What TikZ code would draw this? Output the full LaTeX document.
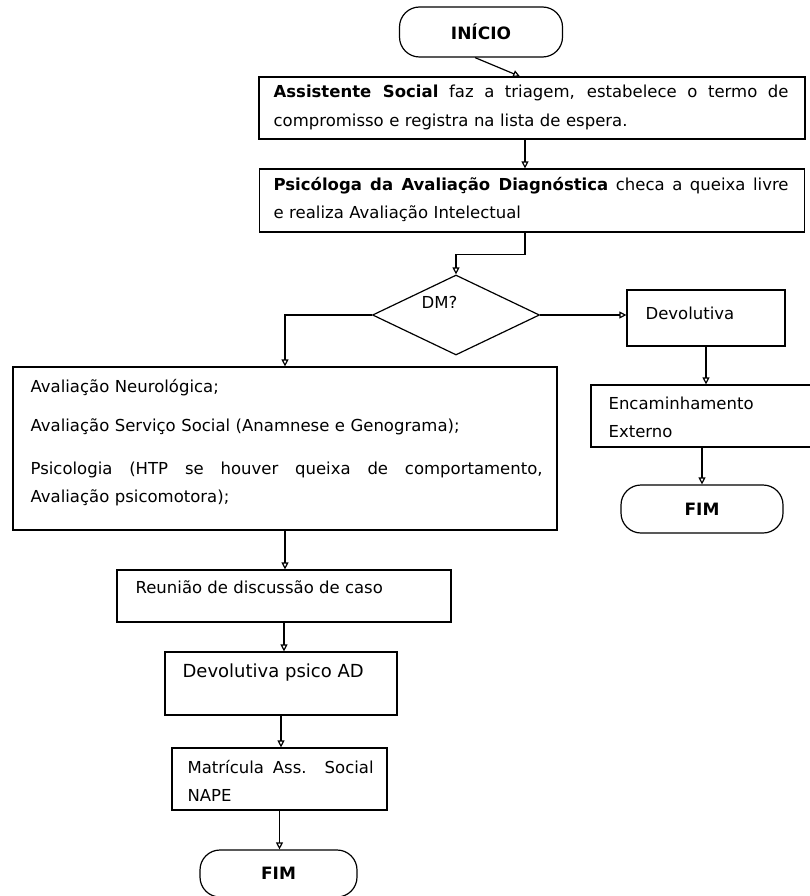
\documentclass[tikz,border=0pt]{standalone}
\usepackage{fontspec}
\setmainfont{DejaVu Sans}
\usetikzlibrary{arrows.meta,shapes.geometric}

% a line whose spaces stretch to the given width
\newcommand{\fillline}[2]{\makebox[#1][s]{\spaceskip=0pt\xspaceskip=0pt\relax #2}}

\begin{document}
\begin{tikzpicture}[x=1pt, y=-1pt, line width=1.2pt,
    box/.style={draw, rectangle, inner sep=0pt},
    term/.style={draw, rectangle, rounded corners=20pt, inner sep=0pt,
      font=\fontsize{17}{20}\selectfont\bfseries},
    txt/.style={anchor=base west, inner sep=0pt, align=left,
      font=\fontsize{16.5}{28.5}\selectfont},
    arr/.style={-{Triangle[open, length=7pt, width=7pt]}}]
  \useasboundingbox (0,0) rectangle (810,896);

  % start, triage, diagnosis
  \node[term, minimum width=163, minimum height=50] (inicio) at (481,32) {INÍCIO};
  \node[box, minimum width=546, minimum height=62] (triag) at (532,108) {};
  \node[txt, text width=515] (triagT) at (273,98)
    {\fillline{515pt}{\textbf{Assistente Social} faz a triagem, estabelece o termo de}\\
     compromisso e registra na lista de espera.};
  \node[box, minimum width=545, minimum height=63] (psico) at (532,200.5) {};
  \node[txt, text width=515] (psicoT) at (273,190)
    {\fillline{515pt}{\textbf{Psicóloga da Avaliação Diagnóstica} checa a queixa livre}\\
     e realiza Avaliação Intelectual};
  \node[draw, diamond, minimum width=167, minimum height=80, inner sep=0pt] (dm) at (456,315) {};
  \node[txt] (dmT) at (421,308) {DM?};

  % right branch
  \node[box, minimum width=158, minimum height=56] (dev) at (706,318) {};
  \node[txt] (devT) at (645,319) {Devolutiva};
  \node[box, minimum width=240, minimum height=62] (enc) at (711,416) {};
  \node[txt, text width=200] (encT) at (608,409) {Encaminhamento\\Externo};
  \node[term, minimum width=162, minimum height=48] (fimA) at (702,509) {FIM};

  % left branch
  \node[box, minimum width=544, minimum height=163] (aval) at (285,448.5) {};
  \node[txt, text width=512] (avalT) at (30,392)
    {Avaliação Neurológica;\\[11pt]
     Avaliação Serviço Social (Anamnese e Genograma);\\[14pt]
     \fillline{512pt}{Psicologia (HTP se houver queixa de comportamento,}\\
     Avaliação psicomotora);};
  \node[box, minimum width=334, minimum height=52] (reun) at (284,596) {};
  \node[txt] (reunT) at (135,593) {Reunião de discussão de caso};
  \node[box, minimum width=232, minimum height=63] (devAD) at (281,683.5) {};
  \node[txt, font=\fontsize{18}{22}\selectfont] (devADT) at (182,677) {Devolutiva psico AD};
  \node[box, minimum width=215, minimum height=62] (matr) at (279.5,779) {};
  \node[txt, text width=186] (matrT) at (187,773)
    {\fillline{186pt}{Matrícula Ass. Social}\\NAPE};
  \node[term, minimum width=157, minimum height=47] (fimB) at (278.5,873.5) {FIM};

  % connectors
  \draw[arr] ([xshift=-6pt]inicio.south) -- ([xshift=-12pt]triag.north);
  \draw[arr] ([xshift=-7pt]triag.south) -- ([xshift=-7pt]psico.north);
  \draw[arr] ([xshift=-7pt]psico.south) -- ++(0,22) -| (dm.north);
  \draw[arr] (dm.west) -| (aval.north);
  \draw[arr] (dm.east) -- (dm.east -| dev.west);
  \draw[arr] (dev.south) -- (dev.south |- enc.north);
  \draw[arr] (fimA.north |- enc.south) -- (fimA.north);
  \draw[arr] (aval.south) -- (aval.south |- reun.north);
  \draw[arr] (reun.south) -- (reun.south |- devAD.north);
  \draw[arr] (devAD.south) -- (devAD.south |- matr.north);
  \draw[arr] (matr.south) -- (matr.south |- fimB.north);
\end{tikzpicture}
\end{document}
